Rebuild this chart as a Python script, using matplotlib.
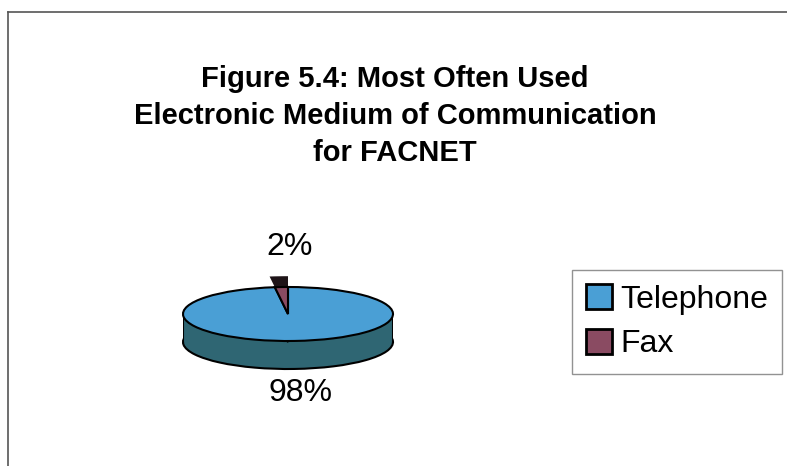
import matplotlib.pyplot as plt
from matplotlib.patches import Patch, Rectangle
from matplotlib.lines import Line2D

plt.rcParams['font.family'] = ['Liberation Sans', 'DejaVu Sans']

# data
categories = ['Telephone', 'Fax']
values = [98, 2]
pct_labels = ['98%', '2%']
top_colors = ['#4A9FD5', '#8A4B62']
side_colors = ['#2F6673', '#5A2E3E']

W, H = 787, 466
fig = plt.figure(figsize=(W / 100, H / 100), dpi=100)

# chart border (top and left edges visible)
fig.add_artist(Line2D([8 / W, 1], [1 - 12 / H, 1 - 12 / H], color='#555555', lw=1.2))
fig.add_artist(Line2D([8 / W, 8 / W], [0, 1 - 12 / H], color='#555555', lw=1.2))

fig.text(395 / W, 1 - 65 / H,
         'Figure 5.4: Most Often Used\nElectronic Medium of Communication\nfor FACNET',
         ha='center', va='top', fontsize=21, fontweight='bold', linespacing=1.4)

# pie axes: x scale 105 px/unit, y scale 27 px/unit
left, right = 183, 393
top, bottom = 262, 390
cy = 314
sy = 27
depth = 28 / sy
ax = fig.add_axes([left / W, 1 - bottom / H, (right - left) / W, (bottom - top) / H])

# side wall
ax.pie(values, colors=side_colors, startangle=90, counterclock=False,
       center=(0, -depth), wedgeprops=dict(edgecolor='black', linewidth=1.5))
ax.add_patch(Rectangle((-1, -depth), 2, depth, facecolor=side_colors[0], edgecolor='none', zorder=2))
ax.plot([-1, -1], [0, -depth], color='black', lw=1.5, zorder=3)
ax.plot([1, 1], [0, -depth], color='black', lw=1.5, zorder=3)

# fax slice sticking up (exploded wall)
ax.pie(values, colors=['none', '#1E1418'], startangle=90, counterclock=False, radius=1.4,
       wedgeprops=dict(edgecolor='none'))
for w in ax.patches[-2:]:
    w.set_zorder(3)

# top face
wedges, _ = ax.pie(values, colors=top_colors, startangle=90, counterclock=False,
                   wedgeprops=dict(edgecolor='black', linewidth=1.5))
for w in wedges:
    w.set_zorder(4)

ax.set_aspect('auto')
ax.set_xlim(-1, 1)
ax.set_ylim(-(bottom - cy) / sy, (cy - top) / sy)
ax.axis('off')

fig.text(290 / W, 1 - 247 / H, pct_labels[1], ha='center', va='center', fontsize=23)
fig.text(300 / W, 1 - 393 / H, pct_labels[0], ha='center', va='center', fontsize=23)

handles = [Patch(facecolor=c, edgecolor='black', linewidth=2) for c in top_colors]
leg = fig.legend(handles, categories, loc='upper left', bbox_to_anchor=(572 / W, 1 - 270 / H),
                 fontsize=23, frameon=True, fancybox=False, handlelength=0.8, handleheight=0.8,
                 handletextpad=0.25, labelspacing=0.45, borderpad=0.45, borderaxespad=0)
leg.get_frame().set_edgecolor('#777777')
leg.get_frame().set_linewidth(1)

fig.savefig('out.png', dpi=100)
